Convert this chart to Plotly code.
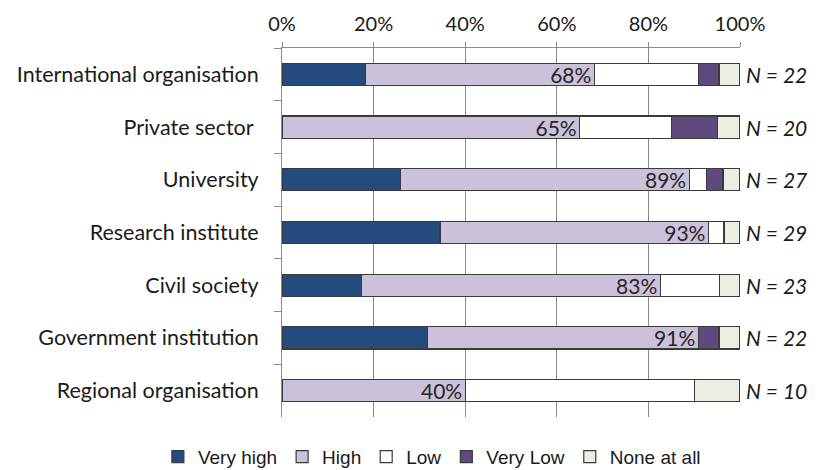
import plotly.graph_objects as go

categories = ["International organisation", "Private sector\u00a0", "University",
              "Research institute", "Civil society", "Government institution",
              "Regional organisation"]
very_high = [18.2, 0.0, 25.9, 34.5, 17.4, 31.8, 0.0]
high = [50.0, 65.0, 63.0, 58.6, 65.2, 59.1, 40.0]
low = [22.7, 20.0, 3.7, 3.4, 13.0, 0.0, 50.0]
very_low = [4.5, 10.0, 3.7, 0.0, 0.0, 4.5, 0.0]
none_at_all = [4.5, 5.0, 3.7, 3.4, 4.3, 4.5, 10.0]
high_labels = ["68%", "65%", "89%", "93%", "83%", "91%", "40%"]
n_labels = ["N = 22", "N = 20", "N = 27", "N = 29", "N = 23", "N = 22", "N = 10"]
tick_vals = [0, 20, 40, 60, 80, 100]
tick_text = ["0%", "20%", "40%", "60%", "80%", "100%"]

FONT = "Lato"
series = [
    ("Very high", very_high, "#234B7D"),
    ("High", high, "#CBC1DA"),
    ("Low", low, "#FFFFFF"),
    ("Very Low", very_low, "#5F4A80"),
    ("None at all", none_at_all, "#EEEDE1"),
]

fig = go.Figure()
for name, vals, col in series:
    kw = {}
    if name == "High":
        kw = dict(text=high_labels, textposition="inside", insidetextanchor="end",
                  textangle=0, constraintext="none",
                  textfont=dict(family=FONT, size=21, color="#262626"))
    fig.add_trace(go.Bar(
        y=categories, x=vals, name=name, orientation="h",
        marker=dict(color=col, line=dict(color="#3a3a3a", width=1.2)),
        hoverinfo="skip", **kw))

for cat, lab in zip(categories, n_labels):
    fig.add_annotation(x=1, xref="paper", y=cat, yref="y", text=lab,
                       showarrow=False, xanchor="left", xshift=4,
                       font=dict(family=FONT, size=21, color="#1a1a1a", style="italic"))

fig.update_layout(
    width=818, height=470,
    margin=dict(l=282, r=78, t=48, b=53, autoexpand=False),
    barmode="stack", bargap=0.58,
    plot_bgcolor="white", paper_bgcolor="white",
    font=dict(family=FONT, size=21, color="#1a1a1a"),
    showlegend=True,
    legend=dict(orientation="h", xref="paper", x=-0.271, xanchor="left",
                yref="paper", y=-0.108, yanchor="middle", traceorder="normal",
                font=dict(family="Liberation Sans", size=19, color="#1a1a1a"),
                itemwidth=30),
)
fig.update_xaxes(side="top", range=[0, 100], tickvals=tick_vals, ticktext=tick_text,
                 tickangle=0, tickfont=dict(size=20), ticklabelstandoff=3,
                 showgrid=True, gridcolor="#8a8a8a", gridwidth=1,
                 showline=True, linecolor="#8a8a8a", linewidth=1,
                 ticks="outside", ticklen=5, tickcolor="#8a8a8a",
                 zeroline=False, fixedrange=True)
fig.update_yaxes(autorange="reversed", showline=True, linecolor="#8a8a8a", linewidth=1,
                 ticks="outside", ticklen=7, tickcolor="#8a8a8a", tickson="boundaries",
                 tickfont=dict(size=21.5),
                 ticklabelstandoff=18, showgrid=False, fixedrange=True)

fig.write_html("out.html", config={"displayModeBar": False},
               post_script="document.body.style.margin='0';")
